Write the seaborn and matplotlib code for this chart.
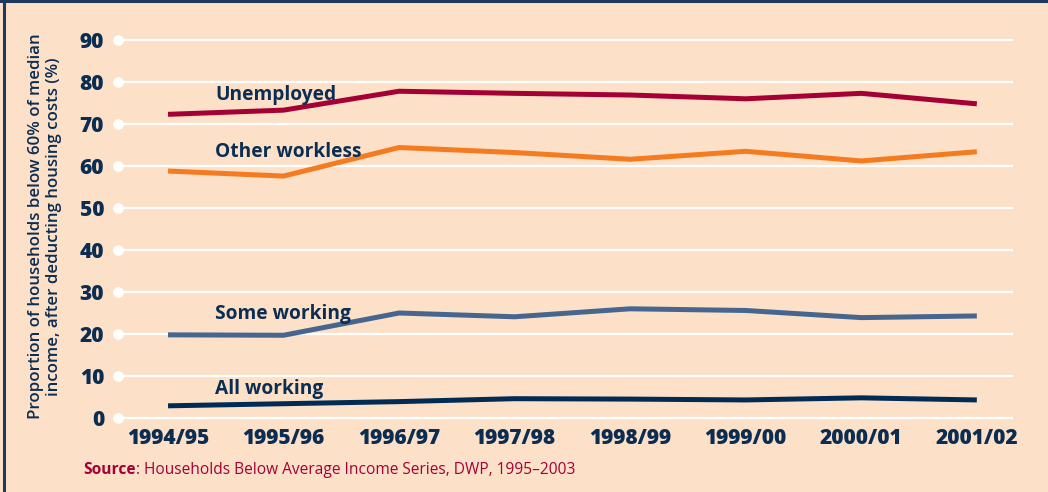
import matplotlib.pyplot as plt
import seaborn as sns
import pandas as pd
from matplotlib.lines import Line2D

years = ['1994/95', '1995/96', '1996/97', '1997/98', '1998/99', '1999/00', '2000/01', '2001/02']
unemployed = [72.3, 73.3, 77.8, 77.3, 76.9, 76.0, 77.3, 74.8]
other_workless = [58.8, 57.6, 64.4, 63.2, 61.6, 63.5, 61.2, 63.4]
some_working = [19.8, 19.7, 25.0, 24.1, 26.0, 25.6, 23.9, 24.3]
all_working = [2.9, 3.4, 3.9, 4.6, 4.5, 4.3, 4.8, 4.3]

series = {
    'Unemployed': unemployed,
    'Other workless': other_workless,
    'Some working': some_working,
    'All working': all_working,
}
colors = {
    'Unemployed': '#A50034',
    'Other workless': '#F47B20',
    'Some working': '#46668F',
    'All working': '#002B55',
}
label_y = {'Unemployed': 76.9, 'Other workless': 63.4, 'Some working': 24.8, 'All working': 6.9}

bg = '#FCE0C8'
navy = '#0B2D52'

rows = []
for name, vals in series.items():
    for i, v in enumerate(vals):
        rows.append({'pos': i, 'value': v, 'group': name})
df = pd.DataFrame(rows)

sns.set_style('white')
plt.rcParams['font.family'] = ['Open Sans', 'DejaVu Sans']

fig = plt.figure(figsize=(10.48, 4.92), dpi=100, facecolor=bg)
ax = fig.add_axes([118 / 1048, 1 - 418 / 492, (1013 - 118) / 1048, (418 - 40) / 492])
ax.set_facecolor(bg)

# white gridlines with dots at the left end
yticks = list(range(0, 100, 10))
for t in yticks:
    ax.axhline(t, color='white', lw=1.6, zorder=1, clip_on=False)
ax.scatter([-0.433] * len(yticks), yticks, s=45, color='white', zorder=3, clip_on=False)

sns.lineplot(data=df, x='pos', y='value', hue='group', palette=colors, lw=3.6,
             legend=False, ax=ax, sort=False, zorder=4)
for l in ax.lines:
    l.set_solid_capstyle('butt')
    l.set_clip_on(False)

for name in series:
    ax.text(0.41, label_y[name], name, color=navy, fontsize=13.8, fontweight='bold',
            va='center', ha='left', zorder=5)

ax.set_xlim(-0.433, 7.313)
ax.set_ylim(0, 90)
ax.set_xticks(range(len(years)))
ax.set_xticklabels(years, fontsize=15, fontweight='heavy', color=navy)
ax.set_yticks(yticks)
ax.set_yticklabels([str(t) for t in yticks], fontsize=15, fontweight='heavy', color=navy)
ax.tick_params(axis='y', length=0, pad=10)
ax.tick_params(axis='x', length=0, pad=7)
ax.set_xlabel('')
ax.set_ylabel('')
sns.despine(ax=ax, left=True, bottom=True)

fig.text(0.043, 0.54, 'Proportion of households below 60% of median\nincome, after deducting housing costs (%)',
         rotation=90, ha='center', va='center', fontsize=12.2, color=navy,
         fontweight='semibold', linespacing=1.1)

fig.text(83 / 1048, 1 - 470 / 492, 'Source', color='#A50034', fontsize=11.2,
         fontweight='bold', va='center', ha='left')
fig.text(136 / 1048, 1 - 470 / 492, ': Households Below Average Income Series, DWP, 1995\u20132003',
         color='#A50034', fontsize=11.2, va='center', ha='left')

# frame on left and top
fig.add_artist(Line2D([0.004, 0.004], [0, 1], color='#1F3A5F', lw=2.2, transform=fig.transFigure))
fig.add_artist(Line2D([0, 1], [0.997, 0.997], color='#1F3A5F', lw=2.2, transform=fig.transFigure))

plt.savefig('out.png', dpi=100, facecolor=bg)
